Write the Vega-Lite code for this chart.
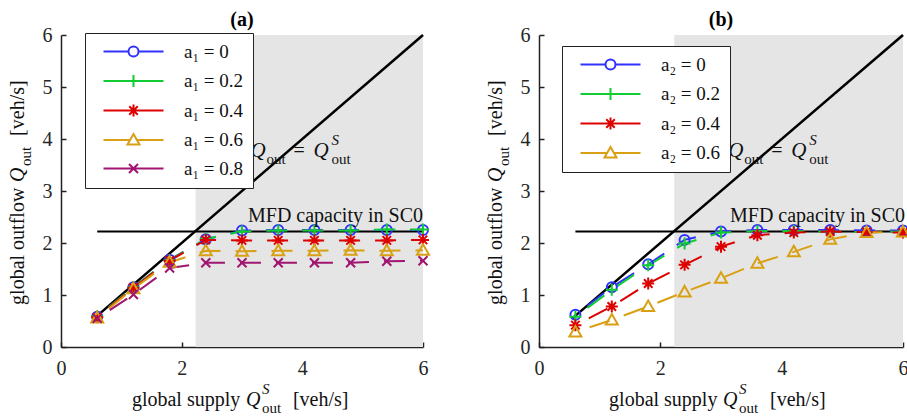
{
"$schema": "https://vega.github.io/schema/vega-lite/v6.json",
"padding": {"left": 8, "top": 10, "right": 0, "bottom": 0},
"bounds": "flush",
"spacing": 116,
"resolve": {"scale": {"color": "independent", "shape": "independent"}, "legend": {"color": "independent", "shape": "independent"}},
"config": {
  "view": {"stroke": null},
  "axis": {"labelFont": "Liberation Serif", "labelFontSize": 20, "labelColor": "#262626", "domainColor": "#222", "domainWidth": 1.5, "tickColor": "#222", "tickWidth": 1.5, "tickSize": -5, "grid": false, "labelPadding": 14, "labelFlush": false, "labelOverlap": false},
  "axisX": {"labelPadding": 16},
  "text": {"font": "Liberation Serif", "fontSize": 20, "color": "#111", "baseline": "alphabetic", "align": "left"}
},
"datasets": {
  "a": [
    {"x":0.6,"y":0.58,"s":"a₁ = 0"},{"x":1.2,"y":1.15,"s":"a₁ = 0"},{"x":1.8,"y":1.68,"s":"a₁ = 0"},{"x":2.4,"y":2.07,"s":"a₁ = 0"},{"x":3.0,"y":2.24,"s":"a₁ = 0"},{"x":3.6,"y":2.25,"s":"a₁ = 0"},{"x":4.2,"y":2.25,"s":"a₁ = 0"},{"x":4.8,"y":2.25,"s":"a₁ = 0"},{"x":5.4,"y":2.25,"s":"a₁ = 0"},{"x":6.0,"y":2.25,"s":"a₁ = 0"},
    {"x":0.6,"y":0.59,"s":"a₁ = 0.2"},{"x":1.2,"y":1.15,"s":"a₁ = 0.2"},{"x":1.8,"y":1.67,"s":"a₁ = 0.2"},{"x":2.4,"y":2.08,"s":"a₁ = 0.2"},{"x":3.0,"y":2.22,"s":"a₁ = 0.2"},{"x":3.6,"y":2.24,"s":"a₁ = 0.2"},{"x":4.2,"y":2.24,"s":"a₁ = 0.2"},{"x":4.8,"y":2.24,"s":"a₁ = 0.2"},{"x":5.4,"y":2.26,"s":"a₁ = 0.2"},{"x":6.0,"y":2.26,"s":"a₁ = 0.2"},
    {"x":0.6,"y":0.57,"s":"a₁ = 0.4"},{"x":1.2,"y":1.14,"s":"a₁ = 0.4"},{"x":1.8,"y":1.66,"s":"a₁ = 0.4"},{"x":2.4,"y":2.06,"s":"a₁ = 0.4"},{"x":3.0,"y":2.05,"s":"a₁ = 0.4"},{"x":3.6,"y":2.05,"s":"a₁ = 0.4"},{"x":4.2,"y":2.05,"s":"a₁ = 0.4"},{"x":4.8,"y":2.05,"s":"a₁ = 0.4"},{"x":5.4,"y":2.05,"s":"a₁ = 0.4"},{"x":6.0,"y":2.06,"s":"a₁ = 0.4"},
    {"x":0.6,"y":0.56,"s":"a₁ = 0.6"},{"x":1.2,"y":1.12,"s":"a₁ = 0.6"},{"x":1.8,"y":1.63,"s":"a₁ = 0.6"},{"x":2.4,"y":1.85,"s":"a₁ = 0.6"},{"x":3.0,"y":1.84,"s":"a₁ = 0.6"},{"x":3.6,"y":1.85,"s":"a₁ = 0.6"},{"x":4.2,"y":1.85,"s":"a₁ = 0.6"},{"x":4.8,"y":1.86,"s":"a₁ = 0.6"},{"x":5.4,"y":1.85,"s":"a₁ = 0.6"},{"x":6.0,"y":1.86,"s":"a₁ = 0.6"},
    {"x":0.6,"y":0.55,"s":"a₁ = 0.8"},{"x":1.2,"y":1.01,"s":"a₁ = 0.8"},{"x":1.8,"y":1.52,"s":"a₁ = 0.8"},{"x":2.4,"y":1.62,"s":"a₁ = 0.8"},{"x":3.0,"y":1.62,"s":"a₁ = 0.8"},{"x":3.6,"y":1.62,"s":"a₁ = 0.8"},{"x":4.2,"y":1.62,"s":"a₁ = 0.8"},{"x":4.8,"y":1.62,"s":"a₁ = 0.8"},{"x":5.4,"y":1.65,"s":"a₁ = 0.8"},{"x":6.0,"y":1.66,"s":"a₁ = 0.8"}
  ],
  "b": [
    {"x":0.6,"y":0.62,"s":"a₂ = 0"},{"x":1.2,"y":1.15,"s":"a₂ = 0"},{"x":1.8,"y":1.59,"s":"a₂ = 0"},{"x":2.4,"y":2.06,"s":"a₂ = 0"},{"x":3.0,"y":2.22,"s":"a₂ = 0"},{"x":3.6,"y":2.25,"s":"a₂ = 0"},{"x":4.2,"y":2.25,"s":"a₂ = 0"},{"x":4.8,"y":2.25,"s":"a₂ = 0"},{"x":5.4,"y":2.24,"s":"a₂ = 0"},{"x":6.0,"y":2.24,"s":"a₂ = 0"},
    {"x":0.6,"y":0.58,"s":"a₂ = 0.2"},{"x":1.2,"y":1.1,"s":"a₂ = 0.2"},{"x":1.8,"y":1.57,"s":"a₂ = 0.2"},{"x":2.4,"y":1.99,"s":"a₂ = 0.2"},{"x":3.0,"y":2.2,"s":"a₂ = 0.2"},{"x":3.6,"y":2.23,"s":"a₂ = 0.2"},{"x":4.2,"y":2.23,"s":"a₂ = 0.2"},{"x":4.8,"y":2.22,"s":"a₂ = 0.2"},{"x":5.4,"y":2.21,"s":"a₂ = 0.2"},{"x":6.0,"y":2.22,"s":"a₂ = 0.2"},
    {"x":0.6,"y":0.42,"s":"a₂ = 0.4"},{"x":1.2,"y":0.78,"s":"a₂ = 0.4"},{"x":1.8,"y":1.22,"s":"a₂ = 0.4"},{"x":2.4,"y":1.58,"s":"a₂ = 0.4"},{"x":3.0,"y":1.93,"s":"a₂ = 0.4"},{"x":3.6,"y":2.15,"s":"a₂ = 0.4"},{"x":4.2,"y":2.2,"s":"a₂ = 0.4"},{"x":4.8,"y":2.22,"s":"a₂ = 0.4"},{"x":5.4,"y":2.21,"s":"a₂ = 0.4"},{"x":6.0,"y":2.2,"s":"a₂ = 0.4"},
    {"x":0.6,"y":0.29,"s":"a₂ = 0.6"},{"x":1.2,"y":0.52,"s":"a₂ = 0.6"},{"x":1.8,"y":0.78,"s":"a₂ = 0.6"},{"x":2.4,"y":1.06,"s":"a₂ = 0.6"},{"x":3.0,"y":1.32,"s":"a₂ = 0.6"},{"x":3.6,"y":1.61,"s":"a₂ = 0.6"},{"x":4.2,"y":1.83,"s":"a₂ = 0.6"},{"x":4.8,"y":2.07,"s":"a₂ = 0.6"},{"x":5.4,"y":2.2,"s":"a₂ = 0.6"},{"x":6.0,"y":2.21,"s":"a₂ = 0.6"}
  ]
},
"hconcat": [
{
  "width": 362, "height": 312,
  "data": {"values": [{}]},
  "resolve": {"scale": {"color": "independent", "shape": "independent"}, "legend": {"color": "independent", "shape": "independent"}},
  "layer": [
    {"mark": {"type": "rect", "color": "#e5e5e5"}, "encoding": {
      "x": {"datum": 2.23, "type": "quantitative", "scale": {"domain": [0, 6]}, "axis": {"values": [0, 2, 4, 6], "title": null}},
      "x2": {"datum": 6},
      "y": {"datum": 0, "type": "quantitative", "scale": {"domain": [0, 6]}, "axis": {"values": [0, 1, 2, 3, 4, 5, 6], "title": null}},
      "y2": {"datum": 6}}},
    {"mark": {"type": "rule", "color": "#000", "strokeWidth": 2}, "encoding": {
      "x": {"datum": 0.6, "type": "quantitative", "scale": {"domain": [0, 6]}, "axis": {"values": [0, 2, 4, 6], "title": null}},
      "x2": {"datum": 6},
      "y": {"datum": 2.22, "type": "quantitative", "scale": {"domain": [0, 6]}, "axis": {"values": [0, 1, 2, 3, 4, 5, 6], "title": null}}}},
    {"mark": {"type": "rule", "color": "#000", "strokeWidth": 2.5}, "encoding": {
      "x": {"datum": 0.55, "type": "quantitative", "scale": {"domain": [0, 6]}, "axis": {"values": [0, 2, 4, 6], "title": null}},
      "x2": {"datum": 6},
      "y": {"datum": 0.55, "type": "quantitative", "scale": {"domain": [0, 6]}, "axis": {"values": [0, 1, 2, 3, 4, 5, 6], "title": null}},
      "y2": {"datum": 6}}},
    {"data": {"name": "a"}, "mark": {"type": "line", "strokeWidth": 2, "strokeDash": [21, 15], "strokeDashOffset": 21}, "encoding": {
      "x": {"field": "x", "type": "quantitative", "scale": {"domain": [0, 6]}, "axis": {"values": [0, 2, 4, 6], "title": null}},
      "y": {"field": "y", "type": "quantitative", "scale": {"domain": [0, 6]}, "axis": {"values": [0, 1, 2, 3, 4, 5, 6], "title": null}},
      "color": {"field": "s", "type": "nominal", "scale": {"domain": ["a₁ = 0", "a₁ = 0.2", "a₁ = 0.4", "a₁ = 0.6", "a₁ = 0.8"], "range": ["#3030ff", "#11cc33", "#dd0000", "#d9a014", "#a01670"]}, "legend": null}}},
    {"data": {"name": "a"}, "mark": {"type": "point", "filled": false, "size": 100, "strokeWidth": 2, "opacity": 1}, "encoding": {
      "x": {"field": "x", "type": "quantitative", "scale": {"domain": [0, 6]}, "axis": {"values": [0, 2, 4, 6], "title": null}},
      "y": {"field": "y", "type": "quantitative", "scale": {"domain": [0, 6]}, "axis": {"values": [0, 1, 2, 3, 4, 5, 6], "title": null}},
      "color": {"field": "s", "type": "nominal", "scale": {"domain": ["a₁ = 0", "a₁ = 0.2", "a₁ = 0.4", "a₁ = 0.6", "a₁ = 0.8"], "range": ["#3030ff", "#11cc33", "#dd0000", "#d9a014", "#a01670"]}, "legend": null},
      "shape": {"field": "s", "type": "nominal", "scale": {"domain": ["a₁ = 0", "a₁ = 0.2", "a₁ = 0.4", "a₁ = 0.6", "a₁ = 0.8"], "range": ["circle", "M-1.2,0H1.2M0,-1.2V1.2", "M-1.2,0H1.2M0,-1.2V1.2M-0.85,-0.85L0.85,0.85M-0.85,0.85L0.85,-0.85", "M0,-1.2L1.2,0.9L-1.2,0.9Z", "M-0.9,-0.9L0.9,0.9M-0.9,0.9L0.9,-0.9"]}, "legend": null}}},
    {"data": {"name": "a"}, "mark": {"type": "point", "filled": false, "size": 100, "strokeWidth": 2, "opacity": 0}, "encoding": {
      "x": {"field": "x", "type": "quantitative", "scale": {"domain": [0, 6]}, "axis": {"values": [0, 2, 4, 6], "title": null}},
      "y": {"field": "y", "type": "quantitative", "scale": {"domain": [0, 6]}, "axis": {"values": [0, 1, 2, 3, 4, 5, 6], "title": null}},
      "color": {"field": "s", "type": "nominal", "scale": {"domain": ["a₁ = 0", "a₁ = 0.2", "a₁ = 0.4", "a₁ = 0.6", "a₁ = 0.8"], "range": ["#3030ff", "#11cc33", "#dd0000", "#d9a014", "#a01670"]},
        "legend": {"title": null, "orient": "none", "legendX": 24, "legendY": -2, "symbolSize": 100, "symbolStrokeWidth": 2, "symbolOpacity": 1, "symbolOffset": 30, "labelOffset": 41, "labelFont": "Liberation Serif", "labelFontSize": 19, "labelColor": "#111", "padding": 9, "rowPadding": 8.5, "strokeColor": "#222", "fillColor": "#ffffff", "labelLimit": 0}},
      "shape": {"field": "s", "type": "nominal", "scale": {"domain": ["a₁ = 0", "a₁ = 0.2", "a₁ = 0.4", "a₁ = 0.6", "a₁ = 0.8"], "range": ["M-6,0H-1M1,0H6M1,0A1,1,0,1,1,-1,0A1,1,0,1,1,1,0", "M-6,0H6M0,-1.2V1.2", "M-6,0H6M0,-1.2V1.2M-0.85,-0.85L0.85,0.85M-0.85,0.85L0.85,-0.85", "M-6,0H-0.7M0.7,0H6M0,-1.2L1.2,0.9L-1.2,0.9Z", "M-6,0H6M-0.9,-0.9L0.9,0.9M-0.9,0.9L0.9,-0.9"]},
        "legend": {"title": null, "orient": "none", "legendX": 24, "legendY": -2, "symbolSize": 100, "symbolStrokeWidth": 2, "symbolOpacity": 1, "symbolOffset": 30, "labelOffset": 41, "labelFont": "Liberation Serif", "labelFontSize": 19, "labelColor": "#111", "padding": 9, "rowPadding": 8.5, "strokeColor": "#222", "fillColor": "#ffffff", "labelLimit": 0}}}},
    {"mark": {"type": "text", "text": "MFD capacity in SC0", "align": "right", "dy": -10}, "encoding": {
      "x": {"datum": 6, "type": "quantitative", "scale": {"domain": [0, 6]}, "axis": {"values": [0, 2, 4, 6], "title": null}},
      "y": {"datum": 2.22, "type": "quantitative", "scale": {"domain": [0, 6]}, "axis": {"values": [0, 1, 2, 3, 4, 5, 6], "title": null}}}},
    {"mark": {"type": "text", "text": "(a)", "align": "center", "fontWeight": "bold", "dy": -9, "color": "#000"}, "encoding": {
      "x": {"datum": 3, "type": "quantitative", "scale": {"domain": [0, 6]}, "axis": {"values": [0, 2, 4, 6], "title": null}},
      "y": {"datum": 6, "type": "quantitative", "scale": {"domain": [0, 6]}, "axis": {"values": [0, 1, 2, 3, 4, 5, 6], "title": null}}}},
    {"encoding": {
      "x": {"datum": 3.14, "type": "quantitative", "scale": {"domain": [0, 6]}, "axis": {"values": [0, 2, 4, 6], "title": null}},
      "y": {"datum": 3.65, "type": "quantitative", "scale": {"domain": [0, 6]}, "axis": {"values": [0, 1, 2, 3, 4, 5, 6], "title": null}}},
     "layer": [
      {"mark": {"type": "text", "text": "Q", "fontStyle": "italic", "fontSize": 21}},
      {"mark": {"type": "text", "text": "out", "fontSize": 15, "dx": 16, "dy": 7}},
      {"mark": {"type": "text", "text": "=", "dx": 43}},
      {"mark": {"type": "text", "text": "Q", "fontStyle": "italic", "fontSize": 21, "dx": 63}},
      {"mark": {"type": "text", "text": "S", "fontStyle": "italic", "fontSize": 15, "dx": 81, "dy": -12}},
      {"mark": {"type": "text", "text": "out", "fontSize": 15, "dx": 81, "dy": 7}}
    ]},
    {"encoding": {
      "x": {"datum": 1.175, "type": "quantitative", "scale": {"domain": [0, 6]}, "axis": {"values": [0, 2, 4, 6], "title": null}},
      "y": {"datum": -1.135, "type": "quantitative", "scale": {"domain": [0, 6]}, "axis": {"values": [0, 1, 2, 3, 4, 5, 6], "title": null}}},
     "layer": [
      {"mark": {"type": "text", "text": "global supply"}},
      {"mark": {"type": "text", "text": "Q", "fontStyle": "italic", "dx": 114}},
      {"mark": {"type": "text", "text": "S", "fontStyle": "italic", "fontSize": 15, "dx": 130, "dy": -12}},
      {"mark": {"type": "text", "text": "out", "fontSize": 15, "dx": 130, "dy": 7}},
      {"mark": {"type": "text", "text": "[veh/s]", "dx": 161}}
    ]},
    {"encoding": {
      "x": {"datum": -0.613, "type": "quantitative", "scale": {"domain": [0, 6]}, "axis": {"values": [0, 2, 4, 6], "title": null}},
      "y": {"datum": 0.81, "type": "quantitative", "scale": {"domain": [0, 6]}, "axis": {"values": [0, 1, 2, 3, 4, 5, 6], "title": null}}},
     "layer": [
      {"mark": {"type": "text", "text": "global outflow", "angle": 270}},
      {"mark": {"type": "text", "text": "Q", "fontStyle": "italic", "angle": 270, "dx": 123}},
      {"mark": {"type": "text", "text": "out", "fontSize": 15, "angle": 270, "dx": 139, "dy": 7}},
      {"mark": {"type": "text", "text": "[veh/s]", "angle": 270, "dx": 169}}
    ]}
  ]
},
{
  "width": 364, "height": 312,
  "data": {"values": [{}]},
  "resolve": {"scale": {"color": "independent", "shape": "independent"}, "legend": {"color": "independent", "shape": "independent"}},
  "layer": [
    {"mark": {"type": "rect", "color": "#e5e5e5"}, "encoding": {
      "x": {"datum": 2.23, "type": "quantitative", "scale": {"domain": [0, 6]}, "axis": {"values": [0, 2, 4, 6], "title": null}},
      "x2": {"datum": 6},
      "y": {"datum": 0, "type": "quantitative", "scale": {"domain": [0, 6]}, "axis": {"values": [0, 1, 2, 3, 4, 5, 6], "title": null}},
      "y2": {"datum": 6}}},
    {"mark": {"type": "rule", "color": "#000", "strokeWidth": 2}, "encoding": {
      "x": {"datum": 0.6, "type": "quantitative", "scale": {"domain": [0, 6]}, "axis": {"values": [0, 2, 4, 6], "title": null}},
      "x2": {"datum": 6},
      "y": {"datum": 2.22, "type": "quantitative", "scale": {"domain": [0, 6]}, "axis": {"values": [0, 1, 2, 3, 4, 5, 6], "title": null}}}},
    {"mark": {"type": "rule", "color": "#000", "strokeWidth": 2.5}, "encoding": {
      "x": {"datum": 0.55, "type": "quantitative", "scale": {"domain": [0, 6]}, "axis": {"values": [0, 2, 4, 6], "title": null}},
      "x2": {"datum": 6},
      "y": {"datum": 0.55, "type": "quantitative", "scale": {"domain": [0, 6]}, "axis": {"values": [0, 1, 2, 3, 4, 5, 6], "title": null}},
      "y2": {"datum": 6}}},
    {"data": {"name": "b"}, "mark": {"type": "line", "strokeWidth": 2, "strokeDash": [21, 15], "strokeDashOffset": 21}, "encoding": {
      "x": {"field": "x", "type": "quantitative", "scale": {"domain": [0, 6]}, "axis": {"values": [0, 2, 4, 6], "title": null}},
      "y": {"field": "y", "type": "quantitative", "scale": {"domain": [0, 6]}, "axis": {"values": [0, 1, 2, 3, 4, 5, 6], "title": null}},
      "color": {"field": "s", "type": "nominal", "scale": {"domain": ["a₂ = 0", "a₂ = 0.2", "a₂ = 0.4", "a₂ = 0.6"], "range": ["#3030ff", "#11cc33", "#dd0000", "#d9a014"]}, "legend": null}}},
    {"data": {"name": "b"}, "mark": {"type": "point", "filled": false, "size": 100, "strokeWidth": 2, "opacity": 1}, "encoding": {
      "x": {"field": "x", "type": "quantitative", "scale": {"domain": [0, 6]}, "axis": {"values": [0, 2, 4, 6], "title": null}},
      "y": {"field": "y", "type": "quantitative", "scale": {"domain": [0, 6]}, "axis": {"values": [0, 1, 2, 3, 4, 5, 6], "title": null}},
      "color": {"field": "s", "type": "nominal", "scale": {"domain": ["a₂ = 0", "a₂ = 0.2", "a₂ = 0.4", "a₂ = 0.6"], "range": ["#3030ff", "#11cc33", "#dd0000", "#d9a014"]}, "legend": null},
      "shape": {"field": "s", "type": "nominal", "scale": {"domain": ["a₂ = 0", "a₂ = 0.2", "a₂ = 0.4", "a₂ = 0.6"], "range": ["circle", "M-1.2,0H1.2M0,-1.2V1.2", "M-1.2,0H1.2M0,-1.2V1.2M-0.85,-0.85L0.85,0.85M-0.85,0.85L0.85,-0.85", "M0,-1.2L1.2,0.9L-1.2,0.9Z"]}, "legend": null}}},
    {"data": {"name": "b"}, "mark": {"type": "point", "filled": false, "size": 100, "strokeWidth": 2, "opacity": 0}, "encoding": {
      "x": {"field": "x", "type": "quantitative", "scale": {"domain": [0, 6]}, "axis": {"values": [0, 2, 4, 6], "title": null}},
      "y": {"field": "y", "type": "quantitative", "scale": {"domain": [0, 6]}, "axis": {"values": [0, 1, 2, 3, 4, 5, 6], "title": null}},
      "color": {"field": "s", "type": "nominal", "scale": {"domain": ["a₂ = 0", "a₂ = 0.2", "a₂ = 0.4", "a₂ = 0.6"], "range": ["#3030ff", "#11cc33", "#dd0000", "#d9a014"]},
        "legend": {"title": null, "orient": "none", "legendX": 23, "legendY": 11, "symbolSize": 100, "symbolStrokeWidth": 2, "symbolOpacity": 1, "symbolOffset": 30, "labelOffset": 41, "labelFont": "Liberation Serif", "labelFontSize": 19, "labelColor": "#111", "padding": 9, "rowPadding": 8.5, "strokeColor": "#222", "fillColor": "#ffffff", "labelLimit": 0}},
      "shape": {"field": "s", "type": "nominal", "scale": {"domain": ["a₂ = 0", "a₂ = 0.2", "a₂ = 0.4", "a₂ = 0.6"], "range": ["M-6,0H-1M1,0H6M1,0A1,1,0,1,1,-1,0A1,1,0,1,1,1,0", "M-6,0H6M0,-1.2V1.2", "M-6,0H6M0,-1.2V1.2M-0.85,-0.85L0.85,0.85M-0.85,0.85L0.85,-0.85", "M-6,0H-0.7M0.7,0H6M0,-1.2L1.2,0.9L-1.2,0.9Z"]},
        "legend": {"title": null, "orient": "none", "legendX": 23, "legendY": 11, "symbolSize": 100, "symbolStrokeWidth": 2, "symbolOpacity": 1, "symbolOffset": 30, "labelOffset": 41, "labelFont": "Liberation Serif", "labelFontSize": 19, "labelColor": "#111", "padding": 9, "rowPadding": 8.5, "strokeColor": "#222", "fillColor": "#ffffff", "labelLimit": 0}}}},
    {"mark": {"type": "text", "text": "MFD capacity in SC0", "align": "right", "dy": -10, "dx": 2}, "encoding": {
      "x": {"datum": 6, "type": "quantitative", "scale": {"domain": [0, 6]}, "axis": {"values": [0, 2, 4, 6], "title": null}},
      "y": {"datum": 2.22, "type": "quantitative", "scale": {"domain": [0, 6]}, "axis": {"values": [0, 1, 2, 3, 4, 5, 6], "title": null}}}},
    {"mark": {"type": "text", "text": "(b)", "align": "center", "fontWeight": "bold", "dy": -9, "color": "#000"}, "encoding": {
      "x": {"datum": 3, "type": "quantitative", "scale": {"domain": [0, 6]}, "axis": {"values": [0, 2, 4, 6], "title": null}},
      "y": {"datum": 6, "type": "quantitative", "scale": {"domain": [0, 6]}, "axis": {"values": [0, 1, 2, 3, 4, 5, 6], "title": null}}}},
    {"encoding": {
      "x": {"datum": 3.12, "type": "quantitative", "scale": {"domain": [0, 6]}, "axis": {"values": [0, 2, 4, 6], "title": null}},
      "y": {"datum": 3.65, "type": "quantitative", "scale": {"domain": [0, 6]}, "axis": {"values": [0, 1, 2, 3, 4, 5, 6], "title": null}}},
     "layer": [
      {"mark": {"type": "text", "text": "Q", "fontStyle": "italic", "fontSize": 21}},
      {"mark": {"type": "text", "text": "out", "fontSize": 15, "dx": 16, "dy": 7}},
      {"mark": {"type": "text", "text": "=", "dx": 43}},
      {"mark": {"type": "text", "text": "Q", "fontStyle": "italic", "fontSize": 21, "dx": 63}},
      {"mark": {"type": "text", "text": "S", "fontStyle": "italic", "fontSize": 15, "dx": 81, "dy": -12}},
      {"mark": {"type": "text", "text": "out", "fontSize": 15, "dx": 81, "dy": 7}}
    ]},
    {"encoding": {
      "x": {"datum": 1.155, "type": "quantitative", "scale": {"domain": [0, 6]}, "axis": {"values": [0, 2, 4, 6], "title": null}},
      "y": {"datum": -1.135, "type": "quantitative", "scale": {"domain": [0, 6]}, "axis": {"values": [0, 1, 2, 3, 4, 5, 6], "title": null}}},
     "layer": [
      {"mark": {"type": "text", "text": "global supply"}},
      {"mark": {"type": "text", "text": "Q", "fontStyle": "italic", "dx": 114}},
      {"mark": {"type": "text", "text": "S", "fontStyle": "italic", "fontSize": 15, "dx": 130, "dy": -12}},
      {"mark": {"type": "text", "text": "out", "fontSize": 15, "dx": 130, "dy": 7}},
      {"mark": {"type": "text", "text": "[veh/s]", "dx": 161}}
    ]},
    {"encoding": {
      "x": {"datum": -0.61, "type": "quantitative", "scale": {"domain": [0, 6]}, "axis": {"values": [0, 2, 4, 6], "title": null}},
      "y": {"datum": 0.81, "type": "quantitative", "scale": {"domain": [0, 6]}, "axis": {"values": [0, 1, 2, 3, 4, 5, 6], "title": null}}},
     "layer": [
      {"mark": {"type": "text", "text": "global outflow", "angle": 270}},
      {"mark": {"type": "text", "text": "Q", "fontStyle": "italic", "angle": 270, "dx": 123}},
      {"mark": {"type": "text", "text": "out", "fontSize": 15, "angle": 270, "dx": 139, "dy": 7}},
      {"mark": {"type": "text", "text": "[veh/s]", "angle": 270, "dx": 169}}
    ]}
  ]
}
]
}
